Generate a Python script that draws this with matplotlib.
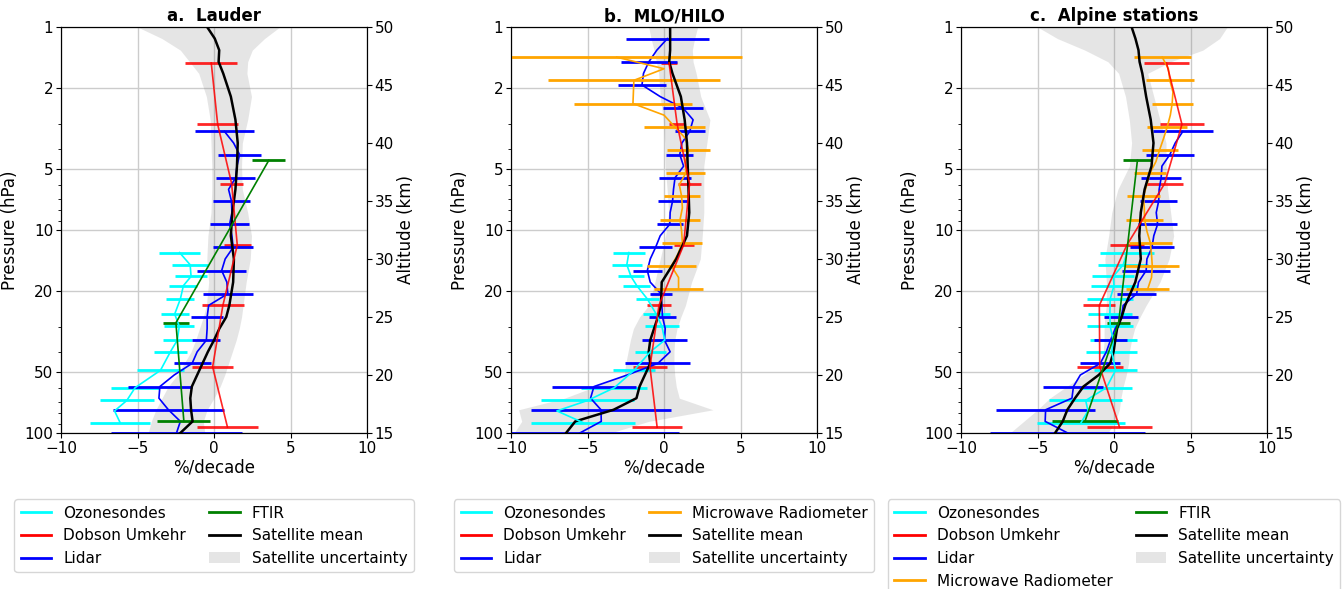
import matplotlib
matplotlib.use('Agg')
import numpy as np
import matplotlib.pyplot as plt
from matplotlib.lines import Line2D
from matplotlib.patches import Patch
from matplotlib.ticker import NullFormatter

plt.rcParams['font.family'] = 'DejaVu Sans'
plt.rcParams['xtick.major.pad'] = 2
plt.rcParams['ytick.major.pad'] = 2

# Рівні висот (км); тиск на лівій осі: p = 10**((50 - z) / 17.5)
sat_z = [15, 16, 17, 18, 19, 20, 21, 22, 23, 24, 25, 26, 28, 30, 32, 34,
         36, 38, 40, 42, 44, 46, 47, 48, 49, 50]
sonde_z = [15.9, 16.9, 17.8, 18.9, 20.4, 22.0, 23.0, 24.2, 25.25, 26.55,
           27.7, 28.5, 29.5, 30.55]
umkehr_z = [15.5, 20.7, 26.0, 31.2, 36.5, 41.6, 46.9]
lidar_z_short = list(range(15, 42))
lidar_z_long = list(range(15, 50))
mwr_z = [27.4, 28.4, 29.4, 30.4, 31.4, 32.4, 33.4, 34.4, 35.4, 36.4, 37.4,
         38.4, 39.4, 40.4, 41.4, 42.4, 43.4, 44.4, 45.4, 46.4, 47.4]
ftir_z = [16.0, 24.5, 38.5]

# --- a. Lauder ---
a_sat_mean = [-2.2, -1.4, -1.5, -1.55, -1.45, -1.1, -0.75, -0.4, 0.0, 0.35,
              0.8, 1.0, 1.25, 1.3, 1.1, 1.2, 1.4, 1.5, 1.55, 1.4, 1.1, 0.6,
              0.3, 0.34, 0.05, -0.45]
a_sat_lo = [-4.3, -4.1, -3.8, -3.4, -3.0, -2.4, -1.95, -1.5, -1.2, -0.95,
            -0.7, -0.5, -0.35, -0.47, -0.4, -0.2, -0.15, -0.15, -0.2, -0.25,
            -0.5, -1.0, -1.6, -2.2, -3.4, -5.0]
a_sat_hi = [-0.6, -0.7, -0.45, 0.0, 0.4, 0.7, 0.95, 1.2, 1.45, 1.65, 1.8,
            1.9, 2.1, 2.37, 2.45, 2.2, 1.85, 1.8, 1.85, 2.2, 2.45, 2.15, 2.2,
            2.5, 3.3, 4.3]
a_sonde = [-6.14, -6.5, -5.7, -5.16, -3.5, -2.85, -2.4, -2.27, -2.57, -2.2,
           -2.0, -1.5, -1.56, -2.25]
a_sonde_err = [1.96, 0, 1.75, 1.59, 1.56, 1.07, 0.95, 0.97, 0.91, 0.92,
               0.91, 1.06, 1.16, 1.33]
a_umk = [0.88, -0.09, 0.58, 1.52, 1.15, 0.24, -0.18]
a_umk_err = [1.97, 1.32, 1.38, 0.9, 0.75, 1.32, 1.71]
a_lidar = [-2.45, -2.2, -2.98, -3.6, -3.54, -2.6, -1.43, -1.1, -0.5, -0.45,
           -0.45, -0.35, 0.9, 0.84, 0.5, 0.73, 1.25, 1.17, 1.02, 1.17, 1.14,
           0.95, 1.41, 1.5, 1.67, 1.28, 0.68]
a_lidar_err = [4.27, 3.64, 2.09, 1.21, 0.92, 1.06, 1.64, 1.58, 1.33, 1.28,
               1.2, 1.28, 1.42, 1.95]
a_ftir = [-1.97, -2.49, 3.58]
a_ftir_err = [1.73, 0.86, 1.09]

# --- b. MLO/HILO ---
b_sat_mean = [-6.4, -5.8, -3.3, -1.8, -1.6, -1.25, -0.9, -1.0, -0.9, -0.65,
              -0.4, -0.2, -0.15, 0.8, 1.5, 1.65, 1.6, 1.55, 1.5, 1.35, 1.1,
              0.55, 0.34, 0.4, 0.4, 0.4]
b_sat_lo = [-9.8, -9.3, -9.5, -6.5, -4.5, -2.6, -2.5, -2.35, -2.2, -2.0,
            -1.6, -1.0, -0.6, -0.25, 0.1, 0.3, 0.2, 0.08, 0.05, -0.05, -0.25,
            -0.35, -0.5, -0.65, -0.85, -1.0]
b_sat_hi = [-3.5, -1.0, 3.2, 1.0, 0.8, 0.7, 0.65, 0.65, 0.7, 0.85, 1.1, 1.4,
            1.8, 2.37, 2.5, 2.6, 2.6, 2.6, 2.8, 3.0, 2.4, 2.1, 1.9, 1.85, 2.0,
            2.2]
b_sonde = [-5.3, -7.0, -5.0, -3.25, -1.96, -0.9, 0.05, -0.14, -0.51, -1.09,
           -1.78, -2.16, -2.43, -2.3]
b_sonde_err = [3.4, 0, 3.05, 2.15, 1.38, 1.0, 0.9, 1.09, 0.87, 0.73, 0.87,
               0.86, 0.98, 1.04]
b_umk = [-0.45, -0.92, -0.33, 1.28, 1.67, 0.86, 0.33]
b_umk_err = [1.61, 1.11, 0.79, 0.65, 0.76, 0.52, 0.5]
b_lidar = [-5.5, -4.1, -4.12, -4.8, -4.58, -2.4, -0.4, 0.4, 0.03, 0.08, -0.1,
           -0.14, -0.2, -0.9, -1.09, -0.9, -0.55, -0.25, 0.38, 0.4, 0.56,
           0.62, 0.72, 1.28, 1.03, 1.17, 1.68, 1.9, 1.25, -0.25, -1.44,
           -1.34, -0.99, -0.47, 0.22]
b_lidar_err = [6.5, 4.57, 2.76, 2.12, 1.5, 0.87, 0.74, 0.93, 1.1, 0.86, 0.98,
               1.05, 0.87, 0.97, 1.3, 1.58, 1.85, 2.72]
b_mwr = [0.95, 0.95, 0.48, 0.9, 1.2, 1.15, 1.05, 1.2, 1.15, 1.0, 1.42, 1.4,
         1.6, 1.4, 0.7, 0.0, -2.03, -2.0, -1.97, 0.0, -3.1]
b_mwr_err = [1.59, 1.58, 1.31, 1.28, 1.18, 1.29, 1.42, 2.0, 3.87, 5.63, 8.2]

# --- c. Alpine stations ---
c_sat_mean = [-3.85, -3.35, -3.05, -2.55, -2.0, -1.0, -0.25, -0.03, 0.08,
              0.2, 0.5, 0.73, 1.39, 1.75, 1.65, 1.75, 2.0, 2.45, 2.58, 2.4,
              2.1, 1.85, 1.67, 1.6, 1.4, 1.15]
c_sat_lo = [-6.8, -5.9, -5.0, -4.2, -3.1, -2.0, -0.95, -0.7, -0.65, -0.65,
            -0.6, -0.5, -0.5, -0.6, -0.35, -0.15, 0.25, 1.0, 1.15, 1.0, 0.75,
            0.3, -0.4, -1.9, -3.7, -5.0]
c_sat_hi = [-0.4, 0.1, 0.35, 0.45, 0.6, 0.8, 0.95, 1.0, 1.15, 1.35, 1.7, 2.1,
            3.0, 3.6, 3.9, 3.7, 3.5, 3.4, 3.4, 3.0, 2.6, 2.2, 3.7, 5.8, 6.9,
            7.4]
c_sonde = [-2.15, -1.7, -1.85, -0.5, 0.1, -0.15, -0.05, -0.25, -0.27, -0.25,
           0.0, -0.05, 0.6, 0.85]
c_sonde_err = [2.9, 0, 2.4, 1.7, 1.4, 1.65, 1.53, 1.5, 1.44, 1.49, 1.52,
               1.36, 1.65, 1.74]
c_umk = [0.36, -0.93, -0.96, 0.84, 3.31, 4.44, 3.43]
c_umk_err = [2.13, 1.5, 1.04, 1.1, 1.2, 1.46, 1.45]
c_lidar = [-3.03, -4.5, -4.47, -2.75, -2.65, -2.2, -0.9, -0.5, -0.23, 0.08,
           0.48, 0.6, 1.48, 1.6, 2.1, 2.15, 2.48, 2.6, 2.85, 2.76, 2.92, 2.95,
           3.08, 3.13, 3.65, 4.0, 4.5]
c_lidar_err = [5.07, 3.24, 1.96, 1.31, 1.07, 1.12, 1.29, 1.55, 1.42, 1.25,
               1.2, 1.33, 1.56, 1.96]
c_mwr = [2.2, 2.45, 2.5, 2.45, 2.37, 2.15, 2.0, 1.98, 1.92, 2.15, 2.35, 2.74,
         2.98, 3.24, 3.48, 3.68, 3.8, 3.85, 3.65, 3.55, 3.15]
c_mwr_err = [1.4, 1.75, 1.4, 1.23, 1.09, 1.06, 1.18, 1.31, 1.34, 1.56, 1.85]
c_ftir = [-1.9, 0.3, 1.53]
c_ftir_err = [2.16, 0.76, 0.95]

p_ticks = [1, 2, 5, 10, 20, 50, 100]
alt_ticks = [15, 20, 25, 30, 35, 40, 45, 50]

fig = plt.figure(figsize=(13.44, 5.89), dpi=100)


def panel(left, title, mean, lo, hi, sonde, sonde_err, umk, umk_err,
          lid_z, lid, lid_err, mwr=None, mwr_err=None, ftir=None,
          ftir_err=None):
    ax = fig.add_axes([left, 0.2649, 0.2277, 0.6893])
    ax.set_yscale('log')
    ax.set_ylim(100, 1)
    ax.set_xlim(-10, 10)
    ax.set_xticks([-10, -5, 0, 5, 10])
    ax.set_yticks(p_ticks)
    ax.set_yticklabels([str(p) for p in p_ticks])
    ax.yaxis.set_minor_formatter(NullFormatter())
    ax.tick_params(labelsize=11)
    ax.grid(True, color='0.8', lw=1.0)
    ax.set_ylabel('Pressure (hPa)', fontsize=12)
    ax.set_xlabel('%/decade', fontsize=12, labelpad=2)
    ax.set_title(title, fontweight='bold', fontsize=12, pad=4)

    ax2 = ax.twinx()
    ax2.set_ylim(15, 50)
    ax2.set_yticks(alt_ticks)
    ax2.tick_params(labelsize=11)
    ax2.set_ylabel('Altitude (km)', fontsize=12, labelpad=2)

    # смуга невизначеності супутників
    ax2.fill_betweenx(sat_z, lo, hi, color='gray', alpha=0.2, lw=0)

    ax2.errorbar(sonde, sonde_z, xerr=sonde_err, color='cyan', lw=1.2,
                 elinewidth=2, capsize=0)
    ax2.errorbar(umk, umkehr_z, xerr=umk_err, color='red', lw=1.2,
                 elinewidth=2, capsize=0, alpha=0.85)
    ax2.plot(lid, lid_z, color='blue', lw=1.2)
    ax2.errorbar(lid[::2], lid_z[::2], xerr=lid_err, fmt='none',
                 ecolor='blue', elinewidth=2, capsize=0)
    if mwr is not None:
        ax2.plot(mwr, mwr_z, color='orange', lw=1.2)
        ax2.errorbar(mwr[::2], mwr_z[::2], xerr=mwr_err, fmt='none',
                     ecolor='orange', elinewidth=2, capsize=0)
    if ftir is not None:
        ax2.errorbar(ftir, ftir_z, xerr=ftir_err, color='green', lw=1.2,
                     elinewidth=2, capsize=0)
    ax2.plot(mean, sat_z, color='black', lw=1.8)
    ax2.set_xlim(-10, 10)

    h = [Line2D([], [], color='cyan', lw=2, label='Ozonesondes'),
         Line2D([], [], color='red', lw=2, label='Dobson Umkehr'),
         Line2D([], [], color='blue', lw=2, label='Lidar')]
    if mwr is not None:
        h.append(Line2D([], [], color='orange', lw=2,
                        label='Microwave Radiometer'))
    if ftir is not None:
        h.append(Line2D([], [], color='green', lw=2, label='FTIR'))
    h.append(Line2D([], [], color='black', lw=2, label='Satellite mean'))
    h.append(Patch(facecolor='gray', alpha=0.2, label='Satellite uncertainty'))
    ax2.legend(handles=h, loc='upper center', bbox_to_anchor=(0.5, -0.145),
               ncol=2, fontsize=11, labelspacing=0.5, columnspacing=1.5)
    return ax, ax2


panel(61 / 1344, 'a.  Lauder', a_sat_mean, a_sat_lo, a_sat_hi,
      a_sonde, a_sonde_err, a_umk, a_umk_err,
      lidar_z_short, a_lidar, a_lidar_err,
      ftir=a_ftir, ftir_err=a_ftir_err)
panel(511 / 1344, 'b.  MLO/HILO', b_sat_mean, b_sat_lo, b_sat_hi,
      b_sonde, b_sonde_err, b_umk, b_umk_err,
      lidar_z_long, b_lidar, b_lidar_err,
      mwr=b_mwr, mwr_err=b_mwr_err)
panel(961 / 1344, 'c.  Alpine stations', c_sat_mean, c_sat_lo, c_sat_hi,
      c_sonde, c_sonde_err, c_umk, c_umk_err,
      lidar_z_short, c_lidar, c_lidar_err,
      mwr=c_mwr, mwr_err=c_mwr_err, ftir=c_ftir, ftir_err=c_ftir_err)

fig.savefig('out.png', dpi=100)
